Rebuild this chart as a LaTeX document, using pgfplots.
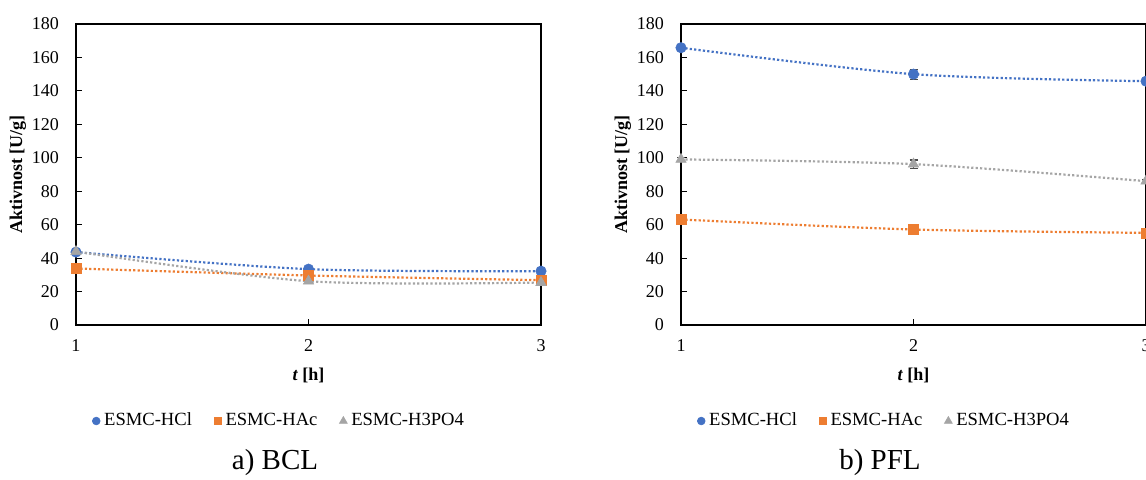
\documentclass[border=0pt]{standalone}
\usepackage{fontspec}
\setmainfont{Liberation Serif}
\usepackage{pgfplots}
\pgfplotsset{compat=1.18}
\definecolor{cblue}{HTML}{4472C4}
\definecolor{corange}{HTML}{ED7D31}
\definecolor{cgray}{HTML}{A5A5A5}
\pgfplotsset{
 panel/.style={
  scale only axis, width=232.5pt, height=150.5pt, anchor=south west,
  xmin=1, xmax=3, ymin=0, ymax=180, clip=false,
  xtick={1,2,3}, ytick={0,20,...,180},
  tick align=inside, major tick length=3pt,
  xtick pos=bottom, ytick pos=left,
  tick style={black, line width=0.6pt},
  axis line style={line width=0.7pt},
  /pgf/number format/assume math mode=true,
  tick label style={font=\fontsize{9}{10}\selectfont},
  xticklabel shift=4pt, yticklabel shift=5pt,
  xlabel={\textbf{\textit{t} [h]}},
  ylabel={\textbf{Aktivnost [U/g]}},
  label style={font=\fontsize{9}{10}\selectfont},
  xlabel style={at={(axis description cs:0.5,-0.166)}, anchor=center},
  ylabel style={at={(axis description cs:-0.125,0.5)}, anchor=center},
  legend columns=3,
  legend style={at={(0.439,-0.319)}, anchor=center, draw=none, fill=none,
    font=\fontsize{9.3}{10}\selectfont,
    /tikz/every even column/.append style={column sep=9pt}},
  legend cell align=left,
  legend image code/.code={\draw[#1, only marks, every mark/.append style={scale=0.75, solid}] plot coordinates {(0.12cm,0cm)};},
  error bars/error bar style={solid, black!70, line width=0.6pt},
  error bars/error mark options={rotate=90, mark size=2pt, solid, black!70, line width=0.6pt},
 },
 s1/.style={cblue, line width=1.1pt, dash pattern=on 1.1pt off 1.1pt, smooth,
   mark=*, mark size=2.6pt, mark options={solid, fill=cblue, draw=cblue, line width=0.3pt}},
 s2/.style={corange, line width=1.1pt, dash pattern=on 1.1pt off 1.1pt, smooth,
   mark=square*, mark size=2.5pt, mark options={solid, fill=corange, draw=corange, line width=0.3pt}},
 s3/.style={cgray, line width=1.1pt, dash pattern=on 1.1pt off 1.1pt, smooth,
   mark=triangle*, mark size=3pt, mark options={solid, fill=cgray, draw=cgray, line width=0.3pt}},
}
\begin{document}
\begin{tikzpicture}
\useasboundingbox (0,0) rectangle (573pt,240pt);
\clip (0,0) rectangle (573pt,240pt);
\begin{axis}[panel, at={(38pt,77.5pt)}]
\addplot[s1, error bars/.cd, y dir=both, y explicit] coordinates {(1,43.6) +- (0,0.8) (2,33.4) +- (0,0.8) (3,32.2) +- (0,0.6)};
\addlegendentry{ESMC-HCl}
\addplot[s2, error bars/.cd, y dir=both, y explicit] coordinates {(1,33.8) +- (0,0.6) (2,29.6) +- (0,0.6) (3,26.8) +- (0,0.6)};
\addlegendentry{ESMC-HAc}
\addplot[s3, error bars/.cd, y dir=both, y explicit] coordinates {(1,43.9) +- (0,0.6) (2,26.2) +- (0,0.6) (3,25.4) +- (0,0.6)};
\addlegendentry{ESMC-H3PO4}
\node[font=\fontsize{14.5}{16}\selectfont] at (rel axis cs:0.428,-0.458) {a) BCL};
\end{axis}
\begin{axis}[panel, at={(340.5pt,77.5pt)}]
\addplot[s1, error bars/.cd, y dir=both, y explicit] coordinates {(1,165.8) +- (0,1.6) (2,150) +- (0,3) (3,145.8) +- (0,1)};
\addlegendentry{ESMC-HCl}
\addplot[s2, error bars/.cd, y dir=both, y explicit] coordinates {(1,63.1) +- (0,0.8) (2,57.1) +- (0,0.8) (3,55.1) +- (0,0.8)};
\addlegendentry{ESMC-HAc}
\addplot[s3, error bars/.cd, y dir=both, y explicit] coordinates {(1,99) +- (0,1) (2,96.2) +- (0,2.5) (3,86) +- (0,1)};
\addlegendentry{ESMC-H3PO4}
\node[font=\fontsize{14.5}{16}\selectfont] at (rel axis cs:0.428,-0.458) {b) PFL};
\end{axis}
\end{tikzpicture}
\end{document}
